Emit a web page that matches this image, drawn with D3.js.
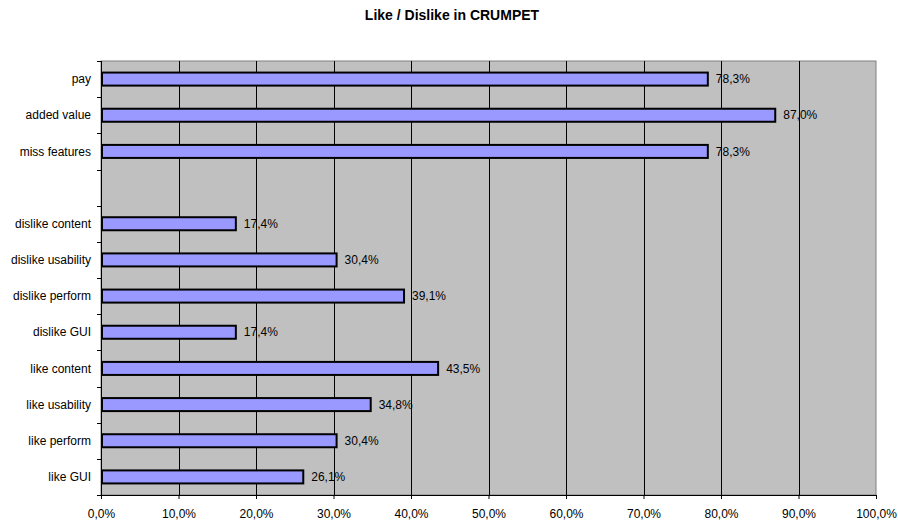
<!DOCTYPE html>
<html>
<head>
<meta charset="utf-8">
<script src="https://cdn.jsdelivr.net/npm/d3@7/dist/d3.min.js"></script>
<style>
  body { margin: 0; background: #fff; }
  text { font-family: "Liberation Sans", Arial, sans-serif; }
</style>
</head>
<body>
<svg id="chart" width="898" height="520"></svg>
<script>
// categories top to bottom, blank slot separates the two groups
var categories = ["pay", "added value", "miss features", "",
  "dislike content", "dislike usability", "dislike perform", "dislike GUI",
  "like content", "like usability", "like perform", "like GUI"];
var values = [78.3, 87.0, 78.3, null, 17.4, 30.4, 39.1, 17.4, 43.5, 34.8, 30.4, 26.1];
var xTicks = [0, 10, 20, 30, 40, 50, 60, 70, 80, 90, 100];

var svg = d3.select("#chart"),
    margin = {top: 61, right: 22, bottom: 25, left: 101},
    width = +svg.attr("width") - margin.left - margin.right,
    height = +svg.attr("height") - margin.top - margin.bottom;

var fmt = function(v) { return v.toFixed(1).replace(".", ",") + "%"; };

svg.append("text")
    .attr("x", 452)
    .attr("y", 20)
    .attr("text-anchor", "middle")
    .attr("font-size", 14)
    .attr("font-weight", "bold")
    .text("Like / Dislike in CRUMPET");

var g = svg.append("g").attr("transform", "translate(" + margin.left + "," + margin.top + ")");

var x = d3.scaleLinear().domain([0, 100]).range([0, width]);
var y = d3.scaleBand().domain(d3.range(categories.length)).range([0, height]).paddingInner(0.64).paddingOuter(0.32);

// plot background
g.append("rect")
    .attr("width", width)
    .attr("height", height)
    .attr("fill", "#c0c0c0")
    .attr("stroke", "#808080")
    .attr("stroke-width", 1);

// vertical gridlines
g.selectAll(".grid")
    .data(xTicks.slice(1, -1))
  .enter().append("line")
    .attr("x1", function(d) { return Math.round(x(d)) + 0.5; })
    .attr("x2", function(d) { return Math.round(x(d)) + 0.5; })
    .attr("y1", 0)
    .attr("y2", height)
    .attr("stroke", "#000")
    .attr("stroke-width", 1);

var data = categories.map(function(c, i) { return {cat: c, i: i, v: values[i]}; })
    .filter(function(d) { return d.v != null; });

g.selectAll(".bar")
    .data(data)
  .enter().append("rect")
    .attr("x", 1)
    .attr("y", function(d) { return y(d.i); })
    .attr("width", function(d) { return x(d.v) - 1; })
    .attr("height", y.bandwidth())
    .attr("fill", "#9999ff")
    .attr("stroke", "#000")
    .attr("stroke-width", 2);

g.selectAll(".lbl")
    .data(data)
  .enter().append("text")
    .attr("x", function(d) { return x(d.v) + 8; })
    .attr("y", function(d) { return y(d.i) + y.bandwidth() / 2; })
    .attr("dy", "0.35em")
    .attr("font-size", 12)
    .attr("fill", "#000")
    .text(function(d) { return fmt(d.v); });

// left axis: ticks at band boundaries
var yAxis = g.append("g");
yAxis.append("line")
    .attr("x1", 0.5).attr("x2", 0.5).attr("y1", 0).attr("y2", height + 4)
    .attr("stroke", "#000");
var step = height / categories.length;
yAxis.selectAll(".yt")
    .data(d3.range(categories.length + 1))
  .enter().append("line")
    .attr("x1", -4).attr("x2", 0)
    .attr("y1", function(d) { return Math.round(d * step) + 0.5; })
    .attr("y2", function(d) { return Math.round(d * step) + 0.5; })
    .attr("stroke", "#000");
yAxis.selectAll(".yl")
    .data(categories)
  .enter().append("text")
    .attr("x", -10)
    .attr("y", function(d, i) { return y(i) + y.bandwidth() / 2; })
    .attr("dy", "0.35em")
    .attr("text-anchor", "end")
    .attr("font-size", 12)
    .text(function(d) { return d; });

// bottom axis
var xAxis = g.append("g").attr("transform", "translate(0," + height + ")")
    .call(d3.axisBottom(x).tickValues(xTicks).tickSize(4).tickPadding(10)
      .tickFormat(function(d) { return d.toFixed(1).replace(".", ",") + "%"; }));
xAxis.select(".domain").attr("stroke", "#000");
xAxis.selectAll("text").attr("font-size", 12).attr("font-family", "Liberation Sans, Arial, sans-serif");
</script>
</body>
</html>
